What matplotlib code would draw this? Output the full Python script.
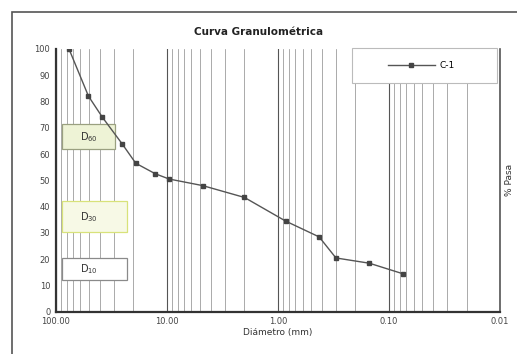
import numpy as np
import matplotlib.pyplot as plt
from matplotlib.patches import Rectangle
from matplotlib.ticker import FixedLocator, LogLocator, NullFormatter

# sieve openings (mm) and percent passing
diametro = [76.2, 50.8, 38.1, 25.4, 19.05, 12.7, 9.525, 4.75, 2.0, 0.85, 0.425, 0.30, 0.15, 0.075]
pasa = [100, 82, 74, 64, 56.5, 52.5, 50.5, 48, 43.5, 34.5, 28.5, 20.5, 18.5, 14.5]
serie = 'C-1'

x_ticks = [100, 10, 1, 0.1, 0.01]
x_labels = ['100.00', '10.00', '1.00', '0.10', '0.01']
y_ticks = list(range(0, 101, 10))

# label boxes: text, bottom / top / width in axes fraction
d_labels = ['D$_{60}$', 'D$_{30}$', 'D$_{10}$']
d_bottom = [0.618, 0.302, 0.122]
d_top = [0.714, 0.42, 0.206]
d_width = [0.12, 0.146, 0.146]
d_fill = ['#eef3d6', '#f7f9e6', '#ffffff']
d_edge = ['#9aa080', '#d8e27a', '#8a8a8a']


def main():
    fig = plt.figure(figsize=(5.17, 3.54), dpi=100)
    ax = fig.add_axes([0.108, 0.119, 0.859, 0.743])

    # outer chart frame (cropped at right and bottom)
    fig.patches.append(Rectangle((12 / 517, -0.05), 1.0, 1 - 12 / 354 + 0.05,
                                 transform=fig.transFigure, fill=False,
                                 edgecolor='#555555', linewidth=1.2))

    ax.set_xscale('log')
    ax.set_xlim(100, 0.01)
    ax.set_ylim(0, 100)

    ax.xaxis.set_major_locator(FixedLocator(x_ticks))
    ax.set_xticklabels(x_labels)
    ax.xaxis.set_minor_locator(LogLocator(base=10, subs=np.arange(2, 10)))
    ax.xaxis.set_minor_formatter(NullFormatter())
    ax.set_yticks(y_ticks)

    ax.grid(which='major', axis='x', color='#555555', linewidth=0.8)
    ax.grid(which='minor', axis='x', color='#888888', linewidth=0.5)
    ax.tick_params(which='both', length=0, labelsize=6, colors='#444444', pad=4)

    for side in ['left', 'bottom']:
        ax.spines[side].set_linewidth(1.6)
        ax.spines[side].set_color('#333333')
    ax.spines['right'].set_linewidth(1.2)
    ax.spines['right'].set_color('#555555')
    ax.spines['top'].set_visible(False)

    ax.plot(diametro, pasa, color='#555555', linewidth=1.0, marker='s',
            markersize=3, markerfacecolor='#444444', markeredgecolor='#444444',
            label=serie, zorder=4)

    for txt, y0, y1, w, fc, ec in zip(d_labels, d_bottom, d_top, d_width, d_fill, d_edge):
        ax.add_patch(Rectangle((0.0135, y0), w, y1 - y0, transform=ax.transAxes,
                               facecolor=fc, edgecolor=ec, linewidth=0.9, zorder=3))
        ax.text(0.054, (y0 + y1) / 2, txt, transform=ax.transAxes, fontsize=7,
                color='#333333', ha='left', va='center', zorder=3.5)

    ax.set_xlabel('Diámetro (mm)', fontsize=6.5, color='#333333', labelpad=1)
    ax.yaxis.set_label_position('right')
    ax.set_ylabel('% Pasa', fontsize=6.5, color='#333333', labelpad=4)

    fig.text(0.5, 1 - 32 / 354, 'Curva Granulométrica', ha='center', va='center',
             fontsize=7.5, fontweight='bold', color='#222222')

    # legend box
    ax.add_patch(Rectangle((352 / 517, 1 - 83 / 354), 145 / 517, 35 / 354,
                           transform=fig.transFigure, facecolor='white',
                           edgecolor='#bbbbbb', linewidth=0.8, zorder=4.5,
                           clip_on=False))
    leg = ax.legend(loc='center', bbox_to_anchor=(421 / 517, 1 - 66 / 354),
                    bbox_transform=fig.transFigure, fontsize=6.5, frameon=False,
                    handlelength=5.2, handletextpad=0.5)
    leg.set_zorder(6)

    fig.savefig('out.png', dpi=100)


if __name__ == '__main__':
    main()
